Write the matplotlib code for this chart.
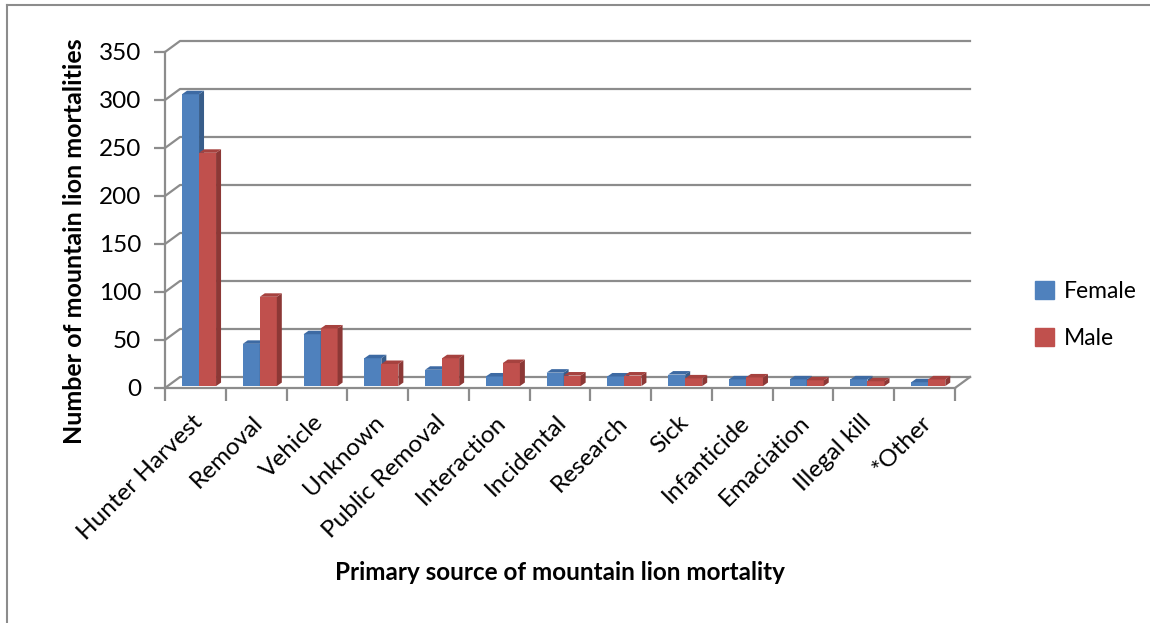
import numpy as np
import matplotlib
matplotlib.use('Agg')
import matplotlib.pyplot as plt
from matplotlib.patches import Polygon, Patch
from matplotlib.lines import Line2D
from matplotlib.transforms import ScaledTranslation

categories = ['Hunter Harvest', 'Removal', 'Vehicle', 'Unknown', 'Public Removal',
              'Interaction', 'Incidental', 'Research', 'Sick', 'Infanticide',
              'Emaciation', 'Illegal kill', '*Other']
female = [304, 44, 54, 29, 17, 10, 14, 10, 12, 7, 7, 7, 4]
male = [243, 93, 60, 23, 29, 24, 11, 11, 8, 9, 6, 5, 7]
yticks = [0, 50, 100, 150, 200, 250, 300, 350]

plt.rcParams['font.family'] = ['Lato', 'DejaVu Sans']
FS = 17.5

W, H = 1150, 623
fig = plt.figure(figsize=(W / 100, H / 100), dpi=100)
ax = fig.add_axes([165 / W, 1 - 388 / H, 790 / W, 336 / H])
n = len(categories)
ax.set_xlim(-0.5, n - 0.5)
ax.set_ylim(0, 350)

# pixel scale of the front plane, used for the fake 3D depth
PXX = 790 / n
PXY = 336 / 350
DX, DY = 15 / PXX, 11 / PXY          # wall depth
BDX, BDY = 5 / PXX, 3.5 / PXY        # bar depth
B0 = 2.0                              # bars sit a bit behind the front edge
GRID = '#8c8c8c'

# side wall + back wall gridlines
for v in yticks:
    ax.plot([-0.5, -0.5 + DX, n - 0.5 + DX], [v, v + DY, v + DY],
            color=GRID, lw=1.6, clip_on=False, zorder=1)
# floor right edge
ax.plot([n - 0.5, n - 0.5 + DX], [0, DY], color=GRID, lw=1.6, clip_on=False, zorder=1)

def bars3d(xs, vals, face, side, top):
    w = 0.28
    ax.bar(xs, vals, width=w, bottom=B0, color=face, zorder=3)
    for x, v in zip(xs, vals):
        r, l = x + w / 2, x - w / 2
        ax.add_patch(Polygon([(r, B0), (r + BDX, B0 + BDY), (r + BDX, B0 + v + BDY), (r, B0 + v)],
                             closed=True, facecolor=side, edgecolor='none', zorder=3, clip_on=False))
        ax.add_patch(Polygon([(l, B0 + v), (l + BDX, B0 + v + BDY), (r + BDX, B0 + v + BDY), (r, B0 + v)],
                             closed=True, facecolor=top, edgecolor='none', zorder=3, clip_on=False))

x = np.arange(n)
bars3d(x - 0.08, female, '#4f81bd', '#385d8a', '#3d6aa3')
bars3d(x + 0.20, male, '#c0504d', '#8c3836', '#a6423f')

for s in ['top', 'right']:
    ax.spines[s].set_visible(False)
for s in ['left', 'bottom']:
    ax.spines[s].set_color(GRID)
    ax.spines[s].set_linewidth(1.6)
    ax.spines[s].set_zorder(2)

ax.set_yticks(yticks)
ax.tick_params(axis='y', direction='out', length=8, width=1.6, color=GRID, labelsize=FS, pad=9)
ax.set_xticks(np.arange(n + 1) - 0.5)
ax.set_xticklabels([])
ax.tick_params(axis='x', which='major', direction='out', length=9, width=1.6, color=GRID)
ax.set_xticks(x, minor=True)
ax.set_xticklabels(categories, minor=True, rotation=45, ha='right', va='top',
                   rotation_mode='anchor', fontsize=FS)
ax.tick_params(axis='x', which='minor', length=0, pad=17)
for lab in ax.get_xticklabels(minor=True):
    lab.set_transform(lab.get_transform() + ScaledTranslation(-0.04, 0, fig.dpi_scale_trans))

fig.text(75 / W, 1 - 241 / H, 'Number of mountain lion mortalities', rotation=90,
         ha='center', va='center', fontsize=18, fontweight='bold')
fig.text(560 / W, 1 - 573 / H, 'Primary source of mountain lion mortality',
         ha='center', va='center', fontsize=FS, fontweight='bold')

handles = [Patch(color='#4f81bd'), Patch(color='#c0504d')]
fig.legend(handles, ['Female', 'Male'], loc='center left', bbox_to_anchor=(1035 / W, 1 - 315 / H),
           frameon=False, fontsize=16.5, handlelength=0.85, handleheight=0.85, borderpad=0,
           borderaxespad=0, handletextpad=0.4, labelspacing=1.15)

# outer chart border (only top and left show in the crop)
fig.add_artist(Line2D([7 / W, 1], [1 - 4.5 / H, 1 - 4.5 / H], color='#8c8c8c', lw=1.5))
fig.add_artist(Line2D([7 / W, 7 / W], [0, 1 - 4.5 / H], color='#8c8c8c', lw=1.5))

fig.savefig('out.png', dpi=100)
